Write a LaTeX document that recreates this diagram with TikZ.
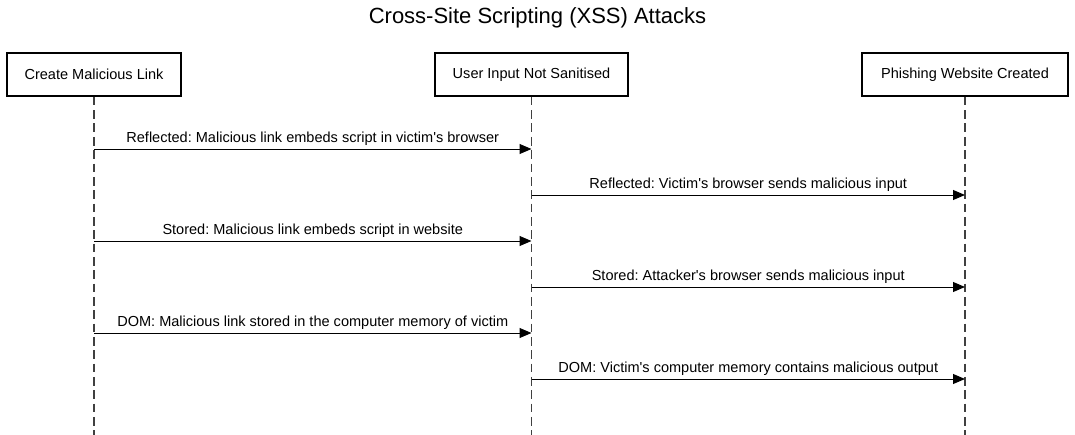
\documentclass[tikz,border=0pt]{standalone}
\usepackage{fontspec}
\setmainfont[Ligatures=TeXOff]{Liberation Sans}
\frenchspacing
\usetikzlibrary{arrows.meta}
\begin{document}
\begin{tikzpicture}[x=0.75pt, y=-0.75pt, font=\fontsize{10.9}{13}\selectfont,
	actor/.style={draw, line width=1.5pt, minimum height=32pt, inner sep=0pt},
	life/.style={draw=black!75, line width=1pt, dash pattern=on 6.5pt off 3.5pt},
	msg/.style={line width=0.75pt, -{Triangle[length=9pt, width=7.5pt]}}]
	\useasboundingbox (0,0) rectangle (1075,435);
	\node at (537.5,18) {\fontsize{16.5}{19}\selectfont Cross-Site Scripting (XSS) Attacks};
	\node[actor, minimum width=130.5pt] (A) at (94,74.5) {Create Malicious Link};
	\node[actor, minimum width=144.75pt] (B) at (531.5,74.5) {User Input Not Sanitised};
	\node[actor, minimum width=154.5pt] (C) at (965,74.5) {Phishing Website Created};
	\coordinate (Ae) at (94,435); \coordinate (Be) at (531.5,435); \coordinate (Ce) at (965,435);
	\draw[life] (A.south) -- (Ae);
	\draw[life] (B.south) -- (Be);
	\draw[life] (C.south) -- (Ce);
	\foreach \from/\to/\y/\txt in {A/B/149/{Reflected: Malicious link embeds script in victim's browser},
		B/C/195/{Reflected: Victim's browser sends malicious input},
		A/B/241/{Stored: Malicious link embeds script in website},
		B/C/287/{Stored: Attacker's browser sends malicious input},
		A/B/333/{DOM: Malicious link stored in the computer memory of victim},
		B/C/379/{DOM: Victim's computer memory contains malicious output}}
		\draw[msg] (\from.south |- 0,\y) -- node[above, inner sep=2pt] {\txt} (\to.south |- 0,\y);
\end{tikzpicture}
\end{document}
